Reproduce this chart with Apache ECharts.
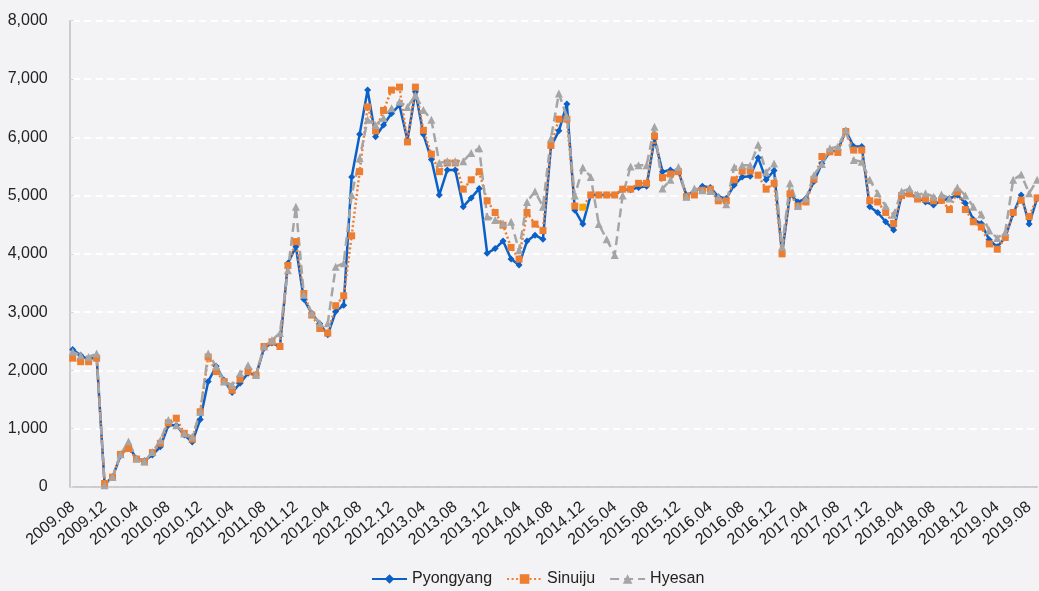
<!DOCTYPE html>
<html>
<head>
<meta charset="utf-8">
<script src="https://cdn.jsdelivr.net/npm/echarts@6/dist/echarts.min.js"></script>
<style>
html,body{margin:0;padding:0;background:#f3f3f5;}
#container{width:1039px;height:591px;}
</style>
</head>
<body>
<div id="container"></div>
<script>
// monthly, 2009.08 - 2019.09
var months = [];
for (var y = 2009, m = 8; months.length < 122; ++m) {
	if (m > 12) { m = 1; ++y; }
	months.push(y + '.' + (m < 10 ? '0' + m : m));
}

var pyongyang = [2360, 2260, 2180, 2240, 50, 170, 540, 700, 490, 450, 550, 690,
	1060, 1060, 890, 770, 1160, 1810, 2070, 1830, 1620, 1780, 1950, 1920,
	2380, 2470, 2410, 3840, 4120, 3220, 2980, 2800, 2610, 3010, 3120, 5320,
	6050, 6810, 6010, 6210, 6410, 6550, 5950, 6780, 6050, 5620, 5010, 5440,
	5440, 4810, 4960, 5120, 4010, 4090, 4220, 3910, 3810, 4220, 4320, 4250,
	5840, 6110, 6570, 4750, 4510, 5010, 5010, 5010, 5010, 5100, 5100, 5140,
	5160, 5980, 5410, 5440, 5410, 5010, 5070, 5160, 5140, 4980, 4950, 5180,
	5320, 5330, 5650, 5270, 5430, 4000, 5020, 4890, 4950, 5240, 5550, 5750,
	5780, 6110, 5840, 5840, 4810, 4710, 4550, 4410, 5010, 5030, 4970, 4890,
	4840, 4910, 4950, 5010, 4870, 4590, 4520, 4240, 4120, 4280, 4690, 5010,
	4510, 4950];

var sinuiju = [2210, 2150, 2150, 2210, 60, 170, 560, 660, 480, 430, 590, 750,
	1100, 1180, 920, 820, 1290, 2230, 1980, 1810, 1660, 1850, 1980, 1920,
	2410, 2490, 2410, 3800, 4210, 3320, 2950, 2720, 2640, 3110, 3280, 4310,
	5410, 6520, 6110, 6460, 6810, 6860, 5920, 6860, 6120, 5710, 5410, 5560,
	5560, 5110, 5270, 5410, 4910, 4710, 4490, 4110, 3910, 4710, 4510, 4400,
	5860, 6310, 6310, 4820, 4800, 5010, 5010, 5010, 5010, 5110, 5110, 5210,
	5210, 6020, 5310, 5370, 5410, 4980, 5010, 5090, 5110, 4910, 4910, 5270,
	5420, 5420, 5350, 5110, 5210, 4000, 5030, 4820, 4890, 5280, 5670, 5750,
	5740, 6100, 5780, 5780, 4910, 4890, 4710, 4520, 5000, 5030, 4940, 4940,
	4910, 4920, 4760, 5060, 4760, 4550, 4460, 4170, 4080, 4280, 4710, 4920,
	4640, 4960];

var hyesan = [2320, 2260, 2230, 2290, 30, 170, 560, 780, 490, 440, 600, 800,
	1150, 1060, 920, 860, 1290, 2290, 2070, 1810, 1750, 1950, 2090, 1920,
	2410, 2520, 2640, 3720, 4810, 3300, 2980, 2810, 2810, 3780, 3840, 5010,
	5640, 6300, 6210, 6330, 6500, 6610, 6520, 6720, 6470, 6300, 5560, 5590,
	5590, 5590, 5730, 5810, 4640, 4580, 4520, 4550, 4060, 4890, 5070, 4810,
	5980, 6750, 6350, 5000, 5480, 5320, 4510, 4250, 3980, 5000, 5500, 5520,
	5520, 6180, 5120, 5270, 5490, 4980, 5120, 5090, 5080, 4980, 4850, 5490,
	5520, 5520, 5870, 5400, 5550, 4120, 5210, 4820, 4950, 5350, 5540, 5810,
	5840, 6120, 5610, 5580, 5270, 5040, 4820, 4670, 5070, 5120, 5020, 5040,
	4980, 5020, 4950, 5140, 5000, 4810, 4680, 4400, 4270, 4370, 5270, 5360,
	5040, 5270];

var yTicks = [0, 1000, 2000, 3000, 4000, 5000, 6000, 7000, 8000];
var sinuijuOddPoint = 64; // the one yellow marker in 2014.12

var FONT = "'Liberation Sans Narrow', 'Arial Narrow', 'Liberation Sans', Arial, sans-serif";

var myChart = echarts.init(document.getElementById('container'));
var option = {
	backgroundColor: '#f3f3f5',
	animation: false,
	textStyle: { fontFamily: FONT },
	grid: { left: 72.7, right: 1.9, top: 20.7, bottom: 104 },
	legend: {
		left: 366,
		top: 566,
		itemWidth: 35,
		itemHeight: 12,
		itemGap: 14,
		textStyle: { fontSize: 16, color: '#222', fontFamily: FONT },
		data: ['Pyongyang', 'Sinuiju', 'Hyesan']
	},
	xAxis: {
		type: 'category',
		boundaryGap: false,
		data: months,
		axisLine: { lineStyle: { color: '#bfbfbf', width: 1.5 } },
		axisTick: { show: false },
		axisLabel: {
			interval: 3,
			rotate: 40,
			margin: 18,
			fontSize: 16,
			color: '#222',
			fontFamily: FONT
		},
		splitLine: { show: false }
	},
	yAxis: {
		type: 'value',
		min: yTicks[0],
		max: yTicks[yTicks.length - 1],
		interval: yTicks[1] - yTicks[0],
		offset: 3,
		axisLine: { show: true, lineStyle: { color: '#bfbfbf', width: 1.5 } },
		axisTick: { show: true, inside: true, length: 4, lineStyle: { color: '#d6d6d6' } },
		axisLabel: {
			margin: 22,
			fontSize: 16,
			color: '#222',
			fontFamily: FONT,
			formatter: function (v) { return echarts.format.addCommas(v); }
		},
		splitLine: { lineStyle: { color: '#ffffff', width: 2, type: [7, 4.5] } }
	},
	series: [
		{
			name: 'Pyongyang',
			type: 'line',
			data: pyongyang,
			symbol: 'diamond',
			symbolSize: 7,
			showAllSymbol: true,
			itemStyle: { color: '#0a60c6' },
			lineStyle: { color: '#0a60c6', width: 2.5 }
		},
		{
			name: 'Sinuiju',
			type: 'line',
			data: sinuiju.map(function (v, i) {
				if (i == sinuijuOddPoint) return { value: v, itemStyle: { color: '#f7a400' } };
				return v;
			}),
			symbol: 'rect',
			symbolSize: 7,
			showAllSymbol: true,
			itemStyle: { color: '#ed7d31' },
			lineStyle: { color: '#ed7d31', width: 2.5, type: [2, 2.5] }
		},
		{
			name: 'Hyesan',
			type: 'line',
			data: hyesan,
			symbol: 'triangle',
			symbolSize: 8,
			showAllSymbol: true,
			itemStyle: { color: '#a5a5a5' },
			lineStyle: { color: '#a5a5a5', width: 2.5, type: [9, 5] }
		}
	]
};
myChart.setOption(option);
</script>
</body>
</html>
